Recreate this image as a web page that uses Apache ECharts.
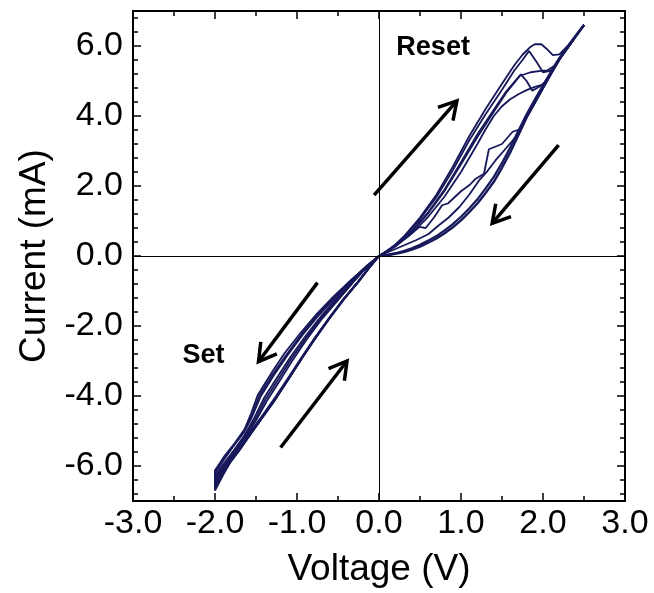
<!DOCTYPE html>
<html>
<head>
<meta charset="utf-8">
<script src="https://cdn.jsdelivr.net/npm/echarts@6/dist/echarts.min.js"></script>
<style>
html,body{margin:0;padding:0;background:#fff;}
#chart{width:654px;height:593px;}
</style>
</head>
<body>
<div id="chart"></div>
<script>
// ---- tick labels ----
const voltageTicks = [-3, -2, -1, 0, 1, 2, 3];
const currentTicks = [-6, -4, -2, 0, 2, 4, 6];

// ---- positive sweep (Reset): forward branches, then common return branch ----
const resetReturn = [[2.5,6.6],[2.4,6.28],[2.3,5.95],[2.2,5.62],[2.1,5.22],[2.0,4.8],[1.9,4.38],[1.8,3.96],[1.7,3.46],[1.6,2.96],[1.5,2.52],[1.4,2.12],[1.3,1.8],[1.2,1.5],[1.1,1.25],[1.0,1.02],[0.9,0.82],[0.8,0.65],[0.7,0.5],[0.6,0.38],[0.5,0.27],[0.4,0.18],[0.3,0.11],[0.2,0.06],[0.1,0.02],[0,0]];
const resetReturnB = [[2.5,6.6],[2.4,6.3],[2.3,5.98],[2.2,5.66],[2.1,5.28],[2.0,4.88],[1.9,4.47],[1.8,4.05],[1.7,3.58],[1.6,3.1],[1.5,2.66],[1.4,2.26],[1.3,1.93],[1.2,1.62],[1.1,1.36],[1.0,1.12],[0.9,0.91],[0.8,0.73],[0.7,0.57],[0.6,0.44],[0.5,0.32],[0.4,0.22],[0.3,0.14],[0.2,0.08],[0.1,0.03],[0,0]];
const resetCycleA = [[0,0],[0.1,0.15],[0.2,0.33],[0.3,0.55],[0.5,1.1],[0.7,1.75],[0.9,2.55],[1.1,3.42],[1.3,4.2],[1.5,4.92],[1.65,5.45],[1.75,5.75],[1.85,5.98],[1.9,6.05],[1.98,6.05],[2.04,5.93],[2.12,5.74],[2.2,5.76],[2.3,6.0],[2.4,6.3],[2.5,6.6]];
const resetCycleB = [[0,0],[0.1,0.14],[0.2,0.31],[0.3,0.52],[0.5,1.05],[0.7,1.68],[0.9,2.45],[1.1,3.3],[1.3,4.05],[1.5,4.75],[1.65,5.3],[1.75,5.6],[1.83,5.86],[1.92,5.55],[2.0,5.25],[2.1,5.3],[2.2,5.62],[2.3,5.95],[2.4,6.28],[2.5,6.6]];
const resetCycleC = [[0,0],[0.2,0.3],[0.4,0.72],[0.6,1.25],[0.8,1.9],[1.0,2.68],[1.2,3.48],[1.4,4.18],[1.55,4.7],[1.73,5.19],[1.8,5.0],[1.87,4.72],[1.97,4.86],[2.05,5.02],[2.1,5.22],[2.2,5.62],[2.3,5.95],[2.4,6.28],[2.5,6.6]];
const resetCycleD = [[0,0],[0.2,0.29],[0.4,0.7],[0.6,1.22],[0.8,1.86],[1.0,2.62],[1.2,3.4],[1.4,4.12],[1.55,4.66],[1.72,5.15],[1.85,5.25],[1.97,5.29],[2.05,5.3],[2.15,5.45],[2.2,5.62],[2.3,5.95],[2.4,6.28],[2.5,6.6]];
const resetCycleE = [[0,0],[0.2,0.27],[0.4,0.65],[0.6,1.12],[0.8,1.7],[1.0,2.4],[1.2,3.2],[1.3,3.62],[1.4,4.0],[1.5,4.28],[1.6,4.48],[1.7,4.62],[1.8,4.74],[1.9,4.83],[2.0,4.9],[2.1,5.22],[2.2,5.62],[2.3,5.95],[2.4,6.28],[2.5,6.6]];
const resetCycleF = [[0,0],[0.1,0.13],[0.2,0.3],[0.35,0.55],[0.49,0.83],[0.57,0.8],[0.67,1.1],[0.77,1.45],[0.84,1.5],[1.0,1.85],[1.1,2.02],[1.18,2.21],[1.28,2.35],[1.34,3.05],[1.5,3.2],[1.63,3.55],[1.72,3.62],[1.8,3.96],[1.9,4.38],[2.0,4.8],[2.1,5.22],[2.2,5.62],[2.3,5.95],[2.4,6.28],[2.5,6.6]];
const resetCycleG = [[0,0],[0.2,0.2],[0.45,0.45],[0.6,0.62],[0.73,0.88],[0.85,1.1],[0.98,1.4],[1.1,1.75],[1.22,2.16],[1.32,2.42],[1.42,2.73],[1.52,3.0],[1.63,3.3],[1.72,3.55],[1.8,3.96],[1.9,4.38],[2.0,4.8],[2.1,5.22],[2.2,5.62],[2.3,5.95],[2.4,6.28],[2.5,6.6]];

// ---- negative sweep (Set): forward 0 -> -2 then return -2 -> 0 ----
const setLoop1 = [[0,0],[-0.15,-0.28],[-0.34,-0.68],[-0.55,-1.15],[-0.75,-1.63],[-0.95,-2.18],[-1.15,-2.77],[-1.3,-3.3],[-1.48,-3.98],[-1.56,-4.5],[-1.64,-4.95],[-1.76,-5.35],[-1.88,-5.7],[-1.95,-5.95],[-2.0,-6.12],[-2.0,-6.7],[-1.9,-6.25],[-1.82,-5.92],[-1.7,-5.55],[-1.58,-5.14],[-1.44,-4.68],[-1.29,-4.19],[-1.12,-3.58],[-0.96,-2.98],[-0.8,-2.4],[-0.63,-1.84],[-0.45,-1.28],[-0.26,-0.76],[-0.12,-0.34],[0,0]];
const setLoop2 = [[0,0],[-0.15,-0.3],[-0.33,-0.7],[-0.53,-1.18],[-0.73,-1.68],[-0.93,-2.25],[-1.12,-2.85],[-1.28,-3.4],[-1.44,-4.0],[-1.55,-4.6],[-1.65,-5.05],[-1.78,-5.45],[-1.9,-5.85],[-2.0,-6.22],[-2.0,-6.6],[-1.9,-6.18],[-1.8,-5.82],[-1.68,-5.46],[-1.56,-5.06],[-1.42,-4.6],[-1.27,-4.1],[-1.1,-3.5],[-0.94,-2.92],[-0.78,-2.36],[-0.62,-1.82],[-0.44,-1.26],[-0.26,-0.75],[-0.12,-0.33],[0,0]];
const setLoop3 = [[0,0],[-0.15,-0.31],[-0.32,-0.72],[-0.52,-1.22],[-0.71,-1.73],[-0.9,-2.3],[-1.09,-2.92],[-1.25,-3.5],[-1.4,-4.05],[-1.52,-4.62],[-1.64,-5.12],[-1.77,-5.55],[-1.9,-5.95],[-2.0,-6.3],[-2.0,-6.52],[-1.9,-6.1],[-1.8,-5.76],[-1.67,-5.4],[-1.55,-5.0],[-1.41,-4.55],[-1.26,-4.05],[-1.09,-3.46],[-0.93,-2.88],[-0.77,-2.33],[-0.61,-1.8],[-0.43,-1.24],[-0.25,-0.73],[-0.12,-0.33],[0,0]];
const setLoop4 = [[0,0],[-0.15,-0.32],[-0.31,-0.74],[-0.5,-1.26],[-0.69,-1.78],[-0.88,-2.38],[-1.06,-3.0],[-1.22,-3.6],[-1.37,-4.15],[-1.5,-4.7],[-1.63,-5.2],[-1.76,-5.65],[-1.9,-6.05],[-2.0,-6.4],[-1.9,-6.12],[-1.8,-5.8],[-1.66,-5.38],[-1.54,-4.98],[-1.4,-4.52],[-1.25,-4.02],[-1.08,-3.43],[-0.92,-2.85],[-0.76,-2.3],[-0.6,-1.78],[-0.42,-1.22],[-0.24,-0.71],[-0.11,-0.31],[0,0]];
const setLoop5 = [[0,0],[-0.15,-0.29],[-0.335,-0.69],[-0.54,-1.17],[-0.74,-1.66],[-0.94,-2.22],[-1.13,-2.82],[-1.29,-3.36],[-1.46,-3.99],[-1.55,-4.55],[-1.645,-5.0],[-1.77,-5.4],[-1.89,-5.78],[-2.0,-6.18],[-2.0,-6.65],[-1.9,-6.22],[-1.81,-5.88],[-1.69,-5.5],[-1.57,-5.1],[-1.43,-4.64],[-1.28,-4.15],[-1.11,-3.54],[-0.95,-2.95],[-0.79,-2.38],[-0.625,-1.83],[-0.445,-1.27],[-0.26,-0.755],[-0.12,-0.335],[0,0]];
const setLoop6 = [[0,0],[-0.15,-0.315],[-0.315,-0.73],[-0.51,-1.24],[-0.7,-1.76],[-0.89,-2.34],[-1.075,-2.96],[-1.235,-3.55],[-1.385,-4.1],[-1.51,-4.66],[-1.635,-5.16],[-1.765,-5.6],[-1.9,-6.0],[-2.0,-6.35],[-2.0,-6.45],[-1.9,-6.06],[-1.8,-5.73],[-1.665,-5.35],[-1.545,-4.95],[-1.405,-4.5],[-1.255,-4.0],[-1.085,-3.4],[-0.925,-2.83],[-0.765,-2.28],[-0.605,-1.77],[-0.425,-1.21],[-0.245,-0.7],[-0.115,-0.31],[0,0]];

// ---- annotations ----
const arrowTails = [[-0.06,1.74],[2.19,3.17],[-0.75,-0.76],[-1.2,-5.47]];
const arrowHeads = [[0.95,4.43],[1.38,0.93],[-1.47,-3.02],[-0.39,-3.0]];
const noteTexts = ['Reset', 'Set'];
const notePositions = [[0.66,5.97],[-2.14,-2.84]];

const FONT = "'Liberation Sans', Arial, Helvetica, sans-serif";
const LINE_COLOR = '#16185a';

const resetLoops = [resetCycleA, resetCycleB, resetCycleC, resetCycleD, resetCycleE, resetCycleF, resetCycleG];
const setLoops = [setLoop1, setLoop2, setLoop3, setLoop4, setLoop5, setLoop6];

// minor tick positions for current axis (every 0.4 between labelled majors)
const currentMinor = [];
for (let k = -17; k <= 17; k++) { if (k % 5 !== 0) currentMinor.push(+(k * 0.4).toFixed(1)); }

const series = [];
function addLine(data, extra) {
  series.push(Object.assign({
    type: 'line', data: data, showSymbol: false, symbol: 'none',
    lineStyle: { color: LINE_COLOR, width: 1.8 }, silent: true, animation: false, z: 3
  }, extra || {}));
}
addLine(resetReturn, {
  lineStyle: { color: LINE_COLOR, width: 2.4 },
  markLine: {
    silent: true, symbol: ['none', 'none'], animation: false,
    label: { show: false },
    lineStyle: { color: '#000', width: 1, type: 'solid' },
    data: [{ xAxis: 0 }, { yAxis: 0 }]
  }
});
addLine(resetReturnB, { lineStyle: { color: LINE_COLOR, width: 2.2 } });
resetLoops.forEach(d => addLine(d));
setLoops.forEach(d => addLine(d));

series.push({
  type: 'custom', silent: true, animation: false, z: 5,
  data: arrowTails.map((t, i) => [t[0], t[1], arrowHeads[i][0], arrowHeads[i][1]]),
  renderItem: function (params, api) {
    const p1 = api.coord([api.value(0), api.value(1)]);
    const p2 = api.coord([api.value(2), api.value(3)]);
    const a = Math.atan2(p1[1] - p2[1], p1[0] - p2[0]);
    const L = 20, th = Math.PI / 6;
    const h1 = [p2[0] + L * Math.cos(a + th), p2[1] + L * Math.sin(a + th)];
    const h2 = [p2[0] + L * Math.cos(a - th), p2[1] + L * Math.sin(a - th)];
    const st = { stroke: '#000', lineWidth: 3.5, fill: null, lineCap: 'butt', lineJoin: 'miter' };
    return {
      type: 'group', children: [
        { type: 'line', shape: { x1: p1[0], y1: p1[1], x2: p2[0], y2: p2[1] }, style: st },
        { type: 'polyline', shape: { points: [h1, p2, h2] }, style: st }
      ]
    };
  }
});

series.push({
  type: 'custom', silent: true, animation: false, z: 6,
  data: notePositions.map((p, i) => [p[0], p[1], i]),
  renderItem: function (params, api) {
    const p = api.coord([api.value(0), api.value(1)]);
    return {
      type: 'text', x: p[0], y: p[1],
      style: {
        text: noteTexts[api.value(2)], fill: '#000', align: 'center', verticalAlign: 'middle',
        font: 'bold 27px ' + FONT
      }
    };
  }
});

const axisLineStyle = { show: true, onZero: false, lineStyle: { color: '#000', width: 2 } };
const tickStyle = { color: '#000', width: 1.5 };

const option = {
  animation: false,
  backgroundColor: '#fff',
  grid: { left: 133, right: 29, top: 11, bottom: 92, containLabel: false },
  xAxis: [
    {
      type: 'value', min: -3, max: 3, interval: 1, position: 'bottom',
      axisLine: axisLineStyle,
      axisTick: { show: true, inside: true, length: 8, lineStyle: tickStyle },
      minorTick: { show: true, splitNumber: 2, length: 5, lineStyle: tickStyle },
      splitLine: { show: false }, minorSplitLine: { show: false },
      axisLabel: {
        customValues: voltageTicks,
        formatter: v => v.toFixed(1), fontFamily: FONT, fontSize: 34, color: '#000', margin: 6
      },
      name: 'Voltage (V)', nameLocation: 'middle', nameGap: 50,
      nameTextStyle: { fontFamily: FONT, fontSize: 37, color: '#000' }
    },
    {
      type: 'value', min: -3, max: 3, interval: 1, position: 'top',
      axisLine: axisLineStyle,
      axisTick: { show: true, inside: true, length: 8, lineStyle: tickStyle },
      minorTick: { show: true, splitNumber: 2, length: 5, lineStyle: tickStyle },
      splitLine: { show: false }, minorSplitLine: { show: false },
      axisLabel: { show: false }
    }
  ],
  yAxis: [
    {
      type: 'value', min: -7, max: 7, position: 'left',
      axisLine: axisLineStyle,
      axisTick: { show: true, inside: true, length: 8, lineStyle: tickStyle, customValues: currentTicks },
      splitLine: { show: false },
      axisLabel: {
        customValues: currentTicks,
        formatter: v => v.toFixed(1), fontFamily: FONT, fontSize: 34, color: '#000', margin: 10
      },
      name: 'Current (mA)', nameLocation: 'middle', nameGap: 78, nameRotate: 90,
      nameTextStyle: { fontFamily: FONT, fontSize: 37, color: '#000' }
    },
    {
      type: 'value', min: -7, max: 7, position: 'right',
      axisLine: axisLineStyle,
      axisTick: { show: true, inside: true, length: 8, lineStyle: tickStyle, customValues: currentTicks },
      splitLine: { show: false },
      axisLabel: { show: false, customValues: currentTicks }
    },
    {
      type: 'value', min: -7, max: 7, position: 'left',
      axisLine: { show: false, onZero: false },
      axisTick: { show: true, inside: true, length: 5, lineStyle: tickStyle, customValues: currentMinor },
      splitLine: { show: false },
      axisLabel: { show: false, customValues: currentMinor }
    },
    {
      type: 'value', min: -7, max: 7, position: 'right',
      axisLine: { show: false, onZero: false },
      axisTick: { show: true, inside: true, length: 5, lineStyle: tickStyle, customValues: currentMinor },
      splitLine: { show: false },
      axisLabel: { show: false, customValues: currentMinor }
    }
  ],
  series: series
};

const chart = echarts.init(document.getElementById('chart'), null, { renderer: 'canvas' });
chart.setOption(option);
</script>
</body>
</html>
